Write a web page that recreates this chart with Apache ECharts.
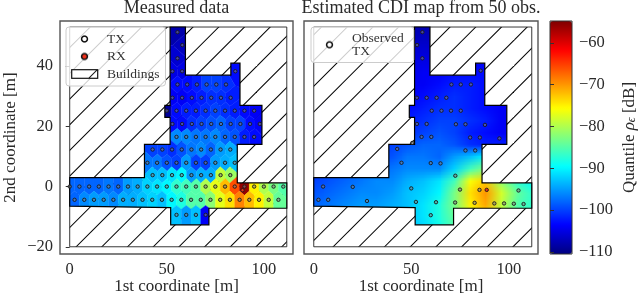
<!DOCTYPE html>
<html><head><meta charset="utf-8">
<style>html,body{margin:0;padding:0;background:#fff}#c{width:640px;height:298px}</style>
<script src="https://cdn.jsdelivr.net/npm/echarts@6/dist/echarts.min.js"></script>
</head><body><div id="c"></div>
<script>
// ---------- data ----------
const jetColors = ['#00007f','#0000ff','#007fff','#00ffff','#7fff7f','#ffff00','#ff7f00','#ff0000','#7f0000'];
const valueMin = -110.5, valueMax = -54.8;
const xTicks = [0,50,100], yTicks = [-20,0,20,40], barTicks = [-110,-100,-90,-80,-70,-60];

// measurement rows (2nd coordinate, 1st coordinates, quantile values)
const rowY = [51.3,47,42.6,38.3,33.9,29.5,25.2,20.8,16.5,12.3,7.9,3.8,0,-4.4,-9.4];
const rowX = [
 [55.5],[58],[55.5],
 [52.9,57.9,85.3],
 [55.5,60.5,65.5,70.5,75.5,80.5],
 [52.9,57.9,62.9,67.9,72.9,77.9,82.9],
 [50,55,60,65,70,75,80,85,90,95],
 [52.9,57.9,62.9,67.9,72.9,77.9,82.9,87.9,92.9,97.9],
 [55,60,65,70,75,80,85,90,95],
 [42.7,47.7,52.7,57.7,62.7,67.7,72.7,77.7,82.7],
 [40,45,50,55,60,65,70,75,80,85],
 [42.7,47.7,52.7,57.7,62.7,67.7,72.7,77.7,82.7],
 [0,5,10,15,20,25,30,35,40,45,50,55,60,65,70,75,80,85,90,95,100,105,110],
 [2.5,7.5,12.5,17.5,22.5,27.5,32.5,37.5,42.5,47.5,52.5,57.5,62.5,67.5,72.5,77.5,82.5,87.5,92.5,97.5,102.5,107.5],
 [55,60,65,70]
];
const rowV = [
 [-108],[-107],[-106],
 [-105,-105,-103],
 [-103,-103,-102,-100,-100,-101],
 [-104,-104,-103,-102,-101,-101,-102],
 [-109,-103,-102,-102,-101,-100,-101,-102,-103,-104],
 [-103,-103,-101,-100,-99,-98,-100,-100,-103,-104],
 [-96,-96,-97,-97,-96,-98,-99,-102,-103],
 [-100,-100,-101,-99,-97,-96,-98,-95,-94],
 [-97,-97,-99,-100,-95,-100,-100,-95,-94,-93],
 [-93,-93,-91,-90,-95,-94,-94,-79,-81],
 [-98,-98,-98,-98,-97,-98,-95,-94,-92,-91,-90,-87,-86,-85,-80,-77,-72,-66,-56,-75,-80,-83,-85],
 [-98,-96,-95,-95,-96,-94,-94,-93,-92,-93,-90,-88,-85,-85,-82,-77,-74,-69,-72,-75,-79,-84],
 [-93,-95,-93,-104]
];
const rxPoint = [89,-1.2];

// floor outline (everything else inside the outer rectangle is building)
const floorOutline = [[0,3],[38.5,3],[38.5,14],[51.7,14],[51.7,23],[49,23],[49,27],[51.7,27],[51.7,53],[59.6,53],[59.6,37],[83,37],[83,41],[87.7,41],[87.7,27],[99,27],[99,14],[86.3,14],[86.3,1.2],[111.8,1.2],[111.8,-7.2],[71.7,-7.2],[71.7,-12.7],[52,-12.7],[52,-7],[0,-6.5]];
const buildingBounds = [[0,53],[111.8,53],[111.8,-20],[0,-20]];

// observed transmitters of the right map
const observedX = [55.7,53,55.7,85.6,70.6,75.4,80.6,52.9,57.9,63,68,60.5,65.5,70.4,75.4,52.9,57.9,72.9,77.8,87.8,55.3,60.3,80.2,85.2,95.2,42.8,50.5,77.8,82.8,45,60,65,72.6,4.8,20,50,75,85,105,2.4,7.4,27.3,52.4,62.7,72.5,82.5,92.6,97.6,102.6,107.6,60];
const observedY = [51.3,47,42.6,38.5,33.9,33.9,33.9,29.5,29.5,29.5,29.5,25.2,25.2,25.2,25.2,20.8,20.8,20.7,20.7,20.5,16.5,16.5,16.3,16.3,16,12.5,14.5,12,12,7.9,7.8,7.7,3.6,0,-0.1,-0.6,-1,-1.1,-1.3,-4.4,-4.4,-4.8,-5.1,-5.2,-5.3,-5.4,-5.6,-5.6,-5.7,-5.8,-9.5];

// estimated map, read on a regular mesh
const mapXs = [0,8,16,24,32,40,48,56,64,72,80,88,96,104,112];
const mapYs = [54,50,46,42,38,34,30,26,22,18,14,10,6,2,-2,-6,-10,-14];
const mapV = [
 [-108,-108,-108,-108,-108,-108,-108,-108,-108,-107,-107,-107,-107,-107,-107],
 [-107,-107,-107,-107,-107,-107,-107,-107,-107,-106,-106,-106,-106,-106,-106],
 [-106,-106,-106,-106,-106,-106,-106,-106,-106,-105,-105,-105,-105,-105,-105],
 [-105,-105,-105,-105,-105,-105,-105,-105,-105,-104,-104,-104,-104,-104,-104],
 [-105,-105,-105,-105,-105,-105,-105,-104,-104,-103,-103,-103,-104,-104,-104],
 [-105,-105,-105,-105,-105,-105,-104,-104,-103,-102,-102,-103,-104,-104,-104],
 [-105,-105,-105,-105,-105,-104,-104,-103,-102,-101,-102,-103,-104,-104,-104],
 [-105,-105,-105,-105,-104,-104,-103,-102,-101,-101,-102,-103,-104,-104,-104],
 [-105,-105,-104,-104,-103,-103,-102,-101,-100,-100,-101,-102,-104,-104,-104],
 [-104,-104,-103,-103,-102,-102,-101,-100,-99,-100,-102,-103,-104,-104,-104],
 [-103,-103,-102,-102,-101,-100,-99,-98,-98,-99,-101,-102,-102,-102,-102],
 [-102,-102,-101,-101,-100,-99,-97,-97,-98,-95,-93,-90,-90,-92,-93],
 [-101,-100,-99,-98,-98,-97,-96,-96,-96,-92,-86,-82,-84,-88,-90],
 [-100,-99,-98,-97,-96,-96,-94,-93,-91,-86,-76,-73,-82,-87,-90],
 [-99,-98,-97,-96,-96,-95,-93,-92,-90,-83,-74,-70,-78,-84,-87],
 [-98,-97,-96,-95,-95,-94,-93,-91,-88,-83,-75,-71,-79,-85,-87],
 [-98,-97,-96,-95,-95,-94,-93,-91,-88,-84,-78,-75,-80,-85,-87],
 [-98,-97,-96,-95,-95,-94,-93,-92,-89,-85,-80,-78,-82,-85,-87]
];

// ---------- helpers ----------
const FONT = '"Liberation Serif"';
const TEXT = '#2a2a2a';
function jet(v){
  const t = Math.min(1,Math.max(0,(v-valueMin)/(valueMax-valueMin)))*(jetColors.length-1);
  const i = Math.min(jetColors.length-2,Math.floor(t)), f = t-i;
  const p = c => [1,3,5].map(k=>parseInt(c.substr(k,2),16));
  const a = p(jetColors[i]), b = p(jetColors[i+1]);
  return 'rgb('+a.map((x,k)=>Math.round(x+(b[k]-x)*f)).join(',')+')';
}
function hatchTile(){
  const n = 257, cv = document.createElement('canvas');
  cv.width = cv.height = n;
  const g = cv.getContext('2d');
  g.fillStyle = '#fff'; g.fillRect(0,0,n,n);
  g.strokeStyle = '#000'; g.lineWidth = 1.05;
  for(let k=-10;k<=20;k++){
    const s = 14.5 + k*25.7;
    g.beginPath(); g.moveTo(s,0); g.lineTo(s-n,n); g.stroke();
  }
  return cv;
}
const hatchPattern = {image:hatchTile(),repeat:'repeat'};
function icon(draw){
  const cv = document.createElement('canvas');
  cv.width = 124; cv.height = 40;
  const g = cv.getContext('2d'); g.scale(4,4); draw(g);
  return 'image://'+cv.toDataURL();
}
const dot = fill => g => {g.beginPath();g.arc(13.5,5,2.9,0,7);g.fillStyle=fill;g.fill();g.lineWidth=1.5;g.strokeStyle='#111';g.stroke();};
const swatch = g => {
  g.fillStyle='#fff';g.fillRect(.7,.7,26,8.6);
  g.save();g.beginPath();g.rect(.7,.7,26,8.6);g.clip();
  g.lineWidth=1;g.strokeStyle='#111';g.beginPath();g.moveTo(17,10);g.lineTo(27,0);g.stroke();g.restore();
  g.lineWidth=1.2;g.strokeStyle='#111';g.strokeRect(.7,.7,26,8.6);
};
function clipCell(poly,a,b,c){ // keep a*x+b*y<=c
  const out=[];
  for(let i=0;i<poly.length;i++){
    const p=poly[i],q=poly[(i+1)%poly.length];
    const dp=a*p[0]+b*p[1]-c,dq=a*q[0]+b*q[1]-c;
    if(dp<=0) out.push(p);
    if((dp<0&&dq>0)||(dp>0&&dq<0)){const t=dp/(dp-dq);out.push([p[0]+(q[0]-p[0])*t,p[1]+(q[1]-p[1])*t]);}
  }
  return out;
}
const txPoints=[]; rowY.forEach((y,i)=>rowX[i].forEach((x,j)=>txPoints.push([x,y,rowV[i][j]])));
const cells = txPoints.map((P,i)=>{
  let poly=[[-5,60],[115,60],[115,-25],[-5,-25]];
  txPoints.forEach((Q,j)=>{
    if(i===j)return;
    const a=Q[0]-P[0],b=Q[1]-P[1];
    poly=clipCell(poly,a,b,(Q[0]*Q[0]+Q[1]*Q[1]-P[0]*P[0]-P[1]*P[1])/2);
  });
  return poly;
});
const mapCanvas=(()=>{
  const cv=document.createElement('canvas');cv.width=mapXs.length;cv.height=mapYs.length;
  const g=cv.getContext('2d');
  mapV.forEach((r,j)=>r.forEach((v,i)=>{g.fillStyle=jet(v);g.fillRect(i,j,1,1);}));
  return cv;
})();

const pts=(api,arr)=>arr.map(p=>api.coord(p));
function hatchSeries(grid){return {type:'custom',name:'Buildings',coordinateSystem:'cartesian2d',xAxisIndex:grid,yAxisIndex:grid,clip:false,z:1,silent:true,
  data:[[0,0]],encode:{x:0,y:1},
  renderItem:(p,api)=>({type:'polygon',shape:{points:pts(api,buildingBounds)},style:{fill:hatchPattern,stroke:'#222',lineWidth:.9}})};}
function outlineSeries(grid){return {type:'custom',coordinateSystem:'cartesian2d',xAxisIndex:grid,yAxisIndex:grid,clip:false,z:3,silent:true,
  data:[[0,0]],encode:{x:0,y:1},
  renderItem:(p,api)=>({type:'polygon',shape:{points:pts(api,floorOutline)},style:{fill:'none',stroke:'#000',lineWidth:1.2}})};}
function dots(grid,name,data,color,z,size){return {type:'scatter',name,xAxisIndex:grid,yAxisIndex:grid,data,symbol:'circle',symbolSize:size,z,silent:true,
  itemStyle:{color,borderColor:'#1a1a1a',borderWidth:.9,opacity:1}};}
function axes(idx,showY){
  return {
    x:{type:'value',gridIndex:idx,min:-5,max:115,splitLine:{show:false},axisLine:{show:false},
       axisTick:{show:true,length:4,lineStyle:{color:'#333',width:1},customValues:xTicks},
       axisLabel:{customValues:xTicks,margin:7,color:TEXT,fontFamily:FONT,fontSize:16.5},
       name:'1st coordinate [m]',nameLocation:'middle',nameGap:24,nameMoveOverlap:false,nameTextStyle:{fontFamily:FONT,fontSize:17,color:TEXT}},
    y:{type:'value',gridIndex:idx,min:-22.4,max:55,splitLine:{show:false},axisLine:{show:false},
       axisTick:{show:showY,length:4,lineStyle:{color:'#333',width:1},customValues:yTicks},
       axisLabel:{show:showY,customValues:yTicks,margin:7,color:TEXT,fontFamily:FONT,fontSize:16.5,formatter:v=>String(v).replace('-','\u2212')},
       name:showY?'2nd coordinate [m]':'',nameLocation:'middle',nameGap:41,nameMoveOverlap:false,nameRotate:90,nameTextStyle:{fontFamily:FONT,fontSize:17,color:TEXT}}
  };
}
const a0=axes(0,true),a1=axes(1,false);
const gridStyle={show:true,backgroundColor:'#fff',borderColor:'#555',borderWidth:1.4,containLabel:false,outerBoundsMode:'none'};
const legendBase={orient:'vertical',itemWidth:31,itemHeight:10,backgroundColor:'rgba(255,255,255,0.8)',borderColor:'#ccc',borderWidth:1,borderRadius:3,selectedMode:false,zlevel:0,z:20,
  textStyle:{fontFamily:FONT,fontSize:13.5,color:'#333',lineHeight:13.5}};

const series=[
  hatchSeries(0),
  {type:'custom',name:'Measured',coordinateSystem:'cartesian2d',xAxisIndex:0,yAxisIndex:0,clip:false,z:2,silent:true,
   data:txPoints,encode:{x:0,y:1},
   renderItem:(p,api)=>{
     const c=api.visual('color');
     return {type:'polygon',shape:{points:pts(api,cells[p.dataIndex])},style:{fill:c,stroke:c,lineWidth:.4},
       clipPath:{type:'polygon',shape:{points:pts(api,floorOutline)}}};
   }},
  outlineSeries(0),
  dots(0,'TX',txPoints.map(p=>[p[0],p[1]]),'rgba(130,130,130,0.55)',4,3.4),
  dots(0,'RX',[rxPoint],'#e8301a',5,3.4),
  hatchSeries(1),
  {type:'custom',name:'Estimated',coordinateSystem:'cartesian2d',xAxisIndex:1,yAxisIndex:1,clip:false,z:2,silent:true,
   data:[[0,0]],encode:{x:0,y:1},
   renderItem:(p,api)=>{
     const hx=(mapXs[1]-mapXs[0])/2,hy=(mapYs[0]-mapYs[1])/2;
     const tl=api.coord([mapXs[0]-hx,mapYs[0]+hy]),br=api.coord([mapXs[mapXs.length-1]+hx,mapYs[mapYs.length-1]-hy]);
     return {type:'image',style:{image:mapCanvas,x:tl[0],y:tl[1],width:br[0]-tl[0],height:br[1]-tl[1]},
       clipPath:{type:'polygon',shape:{points:pts(api,floorOutline)}}};
   }},
  outlineSeries(1),
  dots(1,'Observed\nTX',observedX.map((x,i)=>[x,observedY[i]]),'rgba(130,130,130,0.55)',4,3.4),
  dots(1,'rx',[[88.7,-1.1]],'#e8301a',5,3.4)
];

const chart=echarts.init(document.getElementById('c'),null,{renderer:'canvas',width:640,height:298});
chart.setOption({
  animation:false,backgroundColor:'#fff',textStyle:{fontFamily:FONT},
  title:[
    {text:'Measured data',left:176.5,top:-1,padding:[0,0,0,0],textAlign:'center',textStyle:{fontFamily:FONT,fontSize:18,fontWeight:'normal',color:TEXT}},
    {text:'Estimated CDI map from 50 obs.',left:421,top:-1,padding:[0,0,0,0],textAlign:'center',textStyle:{fontFamily:FONT,fontSize:18,fontWeight:'normal',color:TEXT}}
  ],
  grid:[
    Object.assign({left:60,top:21,width:233,height:233},gridStyle),
    Object.assign({left:304,top:21,width:234,height:233},gridStyle),
    {show:true,left:550,top:21,width:22,height:233,backgroundColor:'transparent',borderColor:'#333',borderWidth:1,z:10,outerBoundsMode:'none'}
  ],
  xAxis:[a0.x,a1.x,{type:'value',gridIndex:2,show:false,min:0,max:1}],
  yAxis:[a0.y,a1.y,{type:'value',gridIndex:2,position:'right',min:valueMin,max:valueMax,z:11,splitLine:{show:false},axisLine:{show:false},
    axisTick:{show:true,length:4,lineStyle:{color:'#333'},customValues:barTicks},
    axisLabel:{customValues:barTicks,margin:7,color:TEXT,fontFamily:FONT,fontSize:16.5,formatter:v=>String(v).replace('-','\u2212')},
    name:'Quantile {i|\u03c1}{s|\u03f5} [dB]',nameLocation:'middle',nameGap:49,nameMoveOverlap:false,nameRotate:90,
    nameTextStyle:{fontFamily:FONT,fontSize:17,color:TEXT,rich:{i:{fontFamily:FONT,fontStyle:'italic',fontSize:17,color:TEXT},s:{fontFamily:FONT,fontStyle:'italic',fontSize:12,color:TEXT,verticalAlign:'bottom'}}}}],
  visualMap:{type:'continuous',show:true,seriesIndex:[1],dimension:2,min:valueMin,max:valueMax,left:550,top:21,itemWidth:22,itemHeight:233,padding:0,calculable:false,realtime:false,hoverLink:false,
    inRange:{color:jetColors},textStyle:{fontSize:0},text:null,z:9},
  legend:[
    Object.assign({},legendBase,{left:66,top:27,padding:[5,6,5,5],itemGap:3.5,data:[
      {name:'TX',icon:icon(dot('#fff'))},{name:'RX',icon:icon(dot('#f0301a'))},{name:'Buildings',icon:icon(swatch)}]}),
    Object.assign({},legendBase,{left:311,top:27,padding:[4,10,4,5],data:[{name:'Observed\nTX',icon:icon(dot('#fff'))}]})
  ],
  series
});
</script></body></html>
